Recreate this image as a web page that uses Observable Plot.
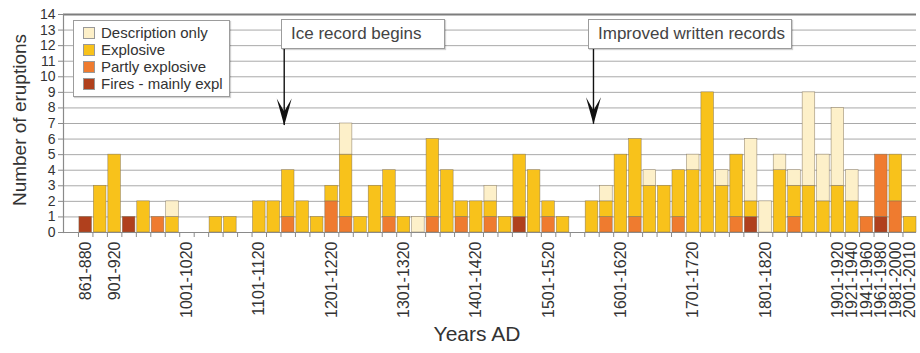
<!DOCTYPE html>
<html><head><meta charset="utf-8">
<script src="https://cdn.jsdelivr.net/npm/d3@7"></script>
<script src="https://cdn.jsdelivr.net/npm/@observablehq/plot@0.6"></script>
<style>
body{margin:0;background:#fff;font-family:"Liberation Sans",Arial,Helvetica,sans-serif;}
#wrap{position:relative;width:920px;height:353px;overflow:hidden;}
#wrap svg{position:absolute;left:0;top:0;}
.box{position:absolute;background:#fff;border:1px solid #9c9c9c;box-shadow:1px 1px 1px rgba(0,0,0,0.18);color:#444;box-sizing:border-box;}
.ann{font-size:17px;line-height:28px;padding-left:9px;}
.legend{font-size:15px;color:#333;padding:3px 0 0 9px;}
.legend div{height:17px;line-height:17px;display:flex;align-items:center;}
.legend span.sw{display:inline-block;width:12px;height:12px;border:1px solid #999;box-sizing:border-box;margin-right:6px;}
.ylab{position:absolute;left:20px;top:120px;font-size:19px;color:#333;white-space:nowrap;transform:translate(-50%,-50%) rotate(-90deg);}
</style></head><body><div id="wrap"></div>
<script>
const bins = ["861-880","881-900","901-920","921-940","941-960","961-980","981-1000","1001-1020","1021-1040","1041-1060","1061-1080","1081-1100","1101-1120","1121-1140","1141-1160","1161-1180","1181-1200","1201-1220","1221-1240","1241-1260","1261-1280","1281-1300","1301-1320","1321-1340","1341-1360","1361-1380","1381-1400","1401-1420","1421-1440","1441-1460","1461-1480","1481-1500","1501-1520","1521-1540","1541-1560","1561-1580","1581-1600","1601-1620","1621-1640","1641-1660","1661-1680","1681-1700","1701-1720","1721-1740","1741-1760","1761-1780","1781-1800","1801-1820","1821-1840","1841-1860","1861-1880","1881-1900","1901-1920","1921-1940","1941-1960","1961-1980","1981-2000","2001-2010"];
const fires       = [1,0,0,1,0,0,0,0,0,0, 0,0,0,0,0,0,0,0,0,0, 0,0,0,0,0,0,0,0,0,0, 1,0,0,0,0,0,0,0,0,0, 0,0,0,0,0,0,1,0,0,0, 0,0,0,0,0,1,0,0];
const partly      = [0,0,0,0,0,1,0,0,0,0, 0,0,0,0,1,0,0,2,1,0, 0,1,0,0,1,0,1,0,1,0, 0,0,1,0,0,0,1,0,1,0, 0,1,0,0,0,1,0,0,0,1, 0,0,0,0,1,4,2,0];
const explosive   = [0,3,5,0,2,0,1,0,0,1, 1,0,2,2,3,2,1,1,4,1, 3,3,1,0,5,4,1,2,1,1, 4,4,1,1,0,2,1,5,5,3, 3,3,4,9,3,4,1,0,4,2, 3,2,3,2,0,0,3,1];
const description = [0,0,0,0,0,0,1,0,0,0, 0,0,0,0,0,0,0,0,2,0, 0,0,0,1,0,0,0,0,1,0, 0,0,0,0,0,0,1,0,0,1, 0,0,1,0,1,0,4,2,1,1, 6,3,5,2,0,0,0,0];
const labelledBins = ["861-880","901-920","1001-1020","1101-1120","1201-1220","1301-1320","1401-1420","1501-1520","1601-1620","1701-1720","1801-1820","1901-1920","1921-1940","1941-1960","1961-1980","1981-2000","2001-2010"];
const yTicks = [0,1,2,3,4,5,6,7,8,9,10,11,12,13,14];
const seriesNames  = ["Description only","Explosive","Partly explosive","Fires - mainly expl"];
const seriesColors = ["#fdf0c9","#f8c21b","#ef7b2f","#b0401d"];
const annotationText = ["Ice record begins","Improved written records"];
const annotationBins = ["1141-1160","1561-1580"];
const annotationTop  = [11.75, 11.75];
const annotationTip  = [6.87, 6.95];

// stacked table: bottom to top
const stackOrder = [["Fires - mainly expl", fires],["Partly explosive", partly],["Explosive", explosive],["Description only", description]];
const table = [];
bins.forEach((b,i) => stackOrder.forEach(([name, arr]) => { if (arr[i] > 0) table.push({bin:b, series:name, count:arr[i]}); }));
const ann = annotationBins.map((b,i)=>({bin:b, top:annotationTop[i], tip:annotationTip[i], text:annotationText[i]}));

const W = 920, H = 353, mL = 63, mR = 4, mT = 14, mB = 121;
const pIn = 0.13, pOut = 0.55;
const step = (W - mL - mR) / (bins.length - pIn + 2*pOut);

const arrowHead = {draw(ctx){ ctx.moveTo(0,0); ctx.lineTo(-7.5,-27); ctx.lineTo(0,-14); ctx.lineTo(7.5,-27); ctx.closePath(); }};

const plot = Plot.plot({
  width: W, height: H, marginLeft: mL, marginRight: mR, marginTop: mT, marginBottom: mB,
  style: {fontFamily: "Liberation Sans, Arial, Helvetica, sans-serif", color: "#333", background: "#fff", overflow: "visible"},
  x: {type: "band", domain: bins, paddingInner: pIn, paddingOuter: pOut, align: 1, round: false, label: null},
  y: {domain: [0,14], label: null},
  color: {domain: seriesNames, range: seriesColors},
  marks: [
    Plot.gridY({ticks: yTicks, stroke: "#a9a9a9", strokeOpacity: 1, strokeWidth: 1}),
    Plot.ruleY([14], {stroke: "#7d7d7d", strokeWidth: 2}),
    Plot.frame({anchor: "left", stroke: "#8a8a8a", strokeWidth: 1.2}),
    Plot.barY(table, {x: "bin", y: "count", fill: "series", order: null, stroke: "#7b6c55", strokeWidth: 0.6, strokeOpacity: 0.75}),
    Plot.ruleY([0], {stroke: "#8a8a8a", strokeWidth: 1.2}),
    Plot.axisY({ticks: yTicks, tickSize: 5, tickPadding: 3, fontSize: 14, stroke: "#8a8a8a", label: null}),
    Plot.axisX({ticks: bins, tickSize: 5, tickFormat: () => "", dx: -step/2, stroke: "#8a8a8a", label: null}),
    Plot.axisX({ticks: labelledBins, tickSize: 0, tickPadding: 9, tickRotate: -90, fontSize: 16, label: null}),
    Plot.text(["Years AD"], {frameAnchor: "bottom", dy: 108, dx: -13, fontSize: 21, fill: "#333"}),
    Plot.ruleX([ann[0]], {x: "bin", y1: "top", y2: "tip", dx: -4, stroke: "#111", strokeWidth: 1.4}),
    Plot.dot([ann[0]], {x: "bin", y: "tip", dx: -4, symbol: arrowHead, fill: "#111", stroke: "none"}),
    Plot.ruleX([ann[1]], {x: "bin", y1: "top", y2: "tip", dx: 1.5, stroke: "#111", strokeWidth: 1.4}),
    Plot.dot([ann[1]], {x: "bin", y: "tip", dx: 1.5, symbol: arrowHead, fill: "#111", stroke: "none"})
  ]
});
const wrap = document.getElementById("wrap");
wrap.appendChild(plot);

// y-axis title
const yl = document.createElement("div");
yl.className = "ylab"; yl.textContent = "Number of eruptions";
wrap.appendChild(yl);

// annotation boxes
const boxes = [{left: 281, top: 19, width: 164}, {left: 588, top: 19, width: 204}];
annotationText.forEach((t,i) => {
  const d = document.createElement("div");
  d.className = "box ann";
  d.style.left = boxes[i].left + "px"; d.style.top = boxes[i].top + "px";
  d.style.width = boxes[i].width + "px"; d.style.height = "30px";
  d.textContent = t;
  wrap.appendChild(d);
});
// legend
const lg = document.createElement("div");
lg.className = "box legend";
Object.assign(lg.style, {left: "73px", top: "20px", width: "157px", height: "77px"});
seriesNames.forEach((n,i) => {
  const row = document.createElement("div");
  const sw = document.createElement("span"); sw.className = "sw"; sw.style.background = seriesColors[i];
  row.appendChild(sw); row.appendChild(document.createTextNode(n));
  lg.appendChild(row);
});
wrap.appendChild(lg);
</script>
</body></html>
